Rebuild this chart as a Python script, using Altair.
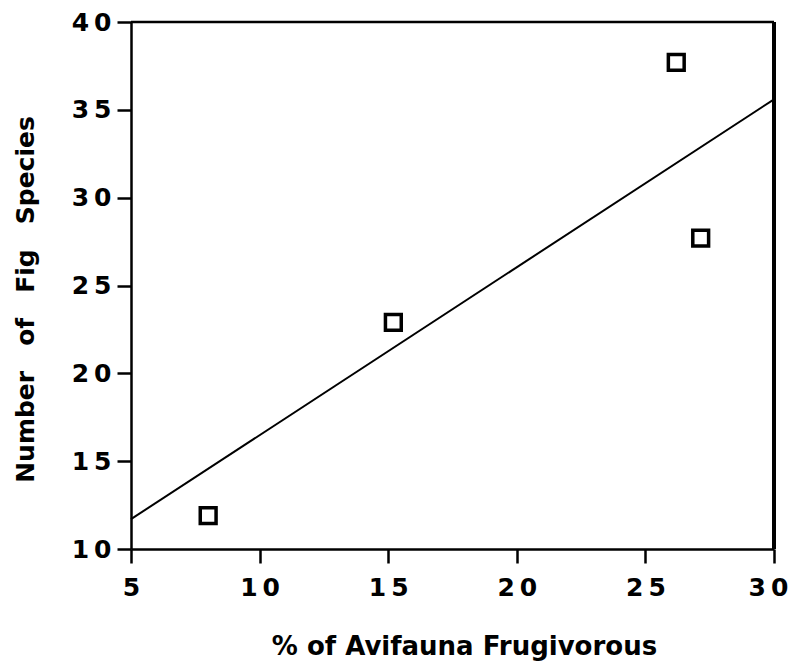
import altair as alt
import pandas as pd

# Data
pct_frugivorous = [8.0, 15.2, 26.2, 27.15]
fig_species = [11.9, 22.9, 37.7, 27.7]
fit_x = [5, 30]
fit_y = [11.7, 35.6]
x_ticks = [5, 10, 15, 20, 25, 30]
y_ticks = [10, 15, 20, 25, 30, 35, 40]

pts = pd.DataFrame({"x": pct_frugivorous, "y": fig_species})
fit = pd.DataFrame({"x": fit_x, "y": fit_y})
frame_right = pd.DataFrame({"x": [30], "y": [10], "y2": [40]})
frame_top = pd.DataFrame({"x": [5], "x2": [30], "y": [40]})

FONT = "DejaVu Sans"
label_expr = "join(split(datum.label, ''), '\u2009')"

xscale = alt.Scale(domain=[5, 30], nice=False, zero=False)
yscale = alt.Scale(domain=[10, 40], nice=False, zero=False)

xaxis = alt.Axis(
    values=x_ticks, title="% of Avifauna Frugivorous", grid=False,
    labelExpr=label_expr, labelFont=FONT, labelFontSize=25, labelFontWeight="bold",
    labelColor="black", labelPadding=12, labelFlush=False,
    labelOffset={"condition": {"test": "datum.value == 30", "value": -6}, "value": 0},
    tickSize=14, tickWidth=2.5, tickColor="black",
    domainColor="black", domainWidth=2.5,
    titleFont=FONT, titleFontSize=26, titleFontWeight="bold", titleColor="black",
    titleX=333, titleY=105, titleAlign="center", titleBaseline="alphabetic",
)
yaxis = alt.Axis(
    values=y_ticks, title="Number\u2003of\u2003Fig\u2003Species", grid=False,
    labelExpr=label_expr, labelFont=FONT, labelFontSize=25, labelFontWeight="bold",
    labelColor="black", labelPadding=6, labelFlush=False,
    tickSize=14, tickWidth=2.5, tickColor="black",
    domainColor="black", domainWidth=2.5,
    titleFont=FONT, titleFontSize=25, titleFontWeight="bold", titleColor="black",
    titleX=-106, titleY=277, titleAlign="center", titleBaseline="middle", titleAngle=270,
)

points = alt.Chart(pts).mark_point(
    shape="square", filled=False, size=250, strokeWidth=3.5, color="black", opacity=1
).encode(
    x=alt.X("x:Q", scale=xscale, axis=xaxis),
    y=alt.Y("y:Q", scale=yscale, axis=yaxis),
)

line = alt.Chart(fit).mark_line(color="black", strokeWidth=2).encode(
    x=alt.X("x:Q", scale=xscale),
    y=alt.Y("y:Q", scale=yscale),
)

right_edge = alt.Chart(frame_right).mark_rule(color="black", strokeWidth=4).encode(
    x=alt.X("x:Q", scale=xscale),
    y=alt.Y("y:Q", scale=yscale),
    y2="y2:Q",
)

top_edge = alt.Chart(frame_top).mark_rule(color="black", strokeWidth=2.5).encode(
    x=alt.X("x:Q", scale=xscale),
    x2="x2:Q",
    y=alt.Y("y:Q", scale=yscale),
)

chart = alt.layer(line, points, right_edge, top_edge).properties(
    width=643, height=527,
    autosize=alt.AutoSizeParams(type="none"),
    padding={"left": 123, "top": 14, "right": 14, "bottom": 116},
).configure_view(stroke="black", strokeWidth=2.5).configure(background="white")

chart.save("out.html", embed_options={"renderer": "svg", "actions": False})
